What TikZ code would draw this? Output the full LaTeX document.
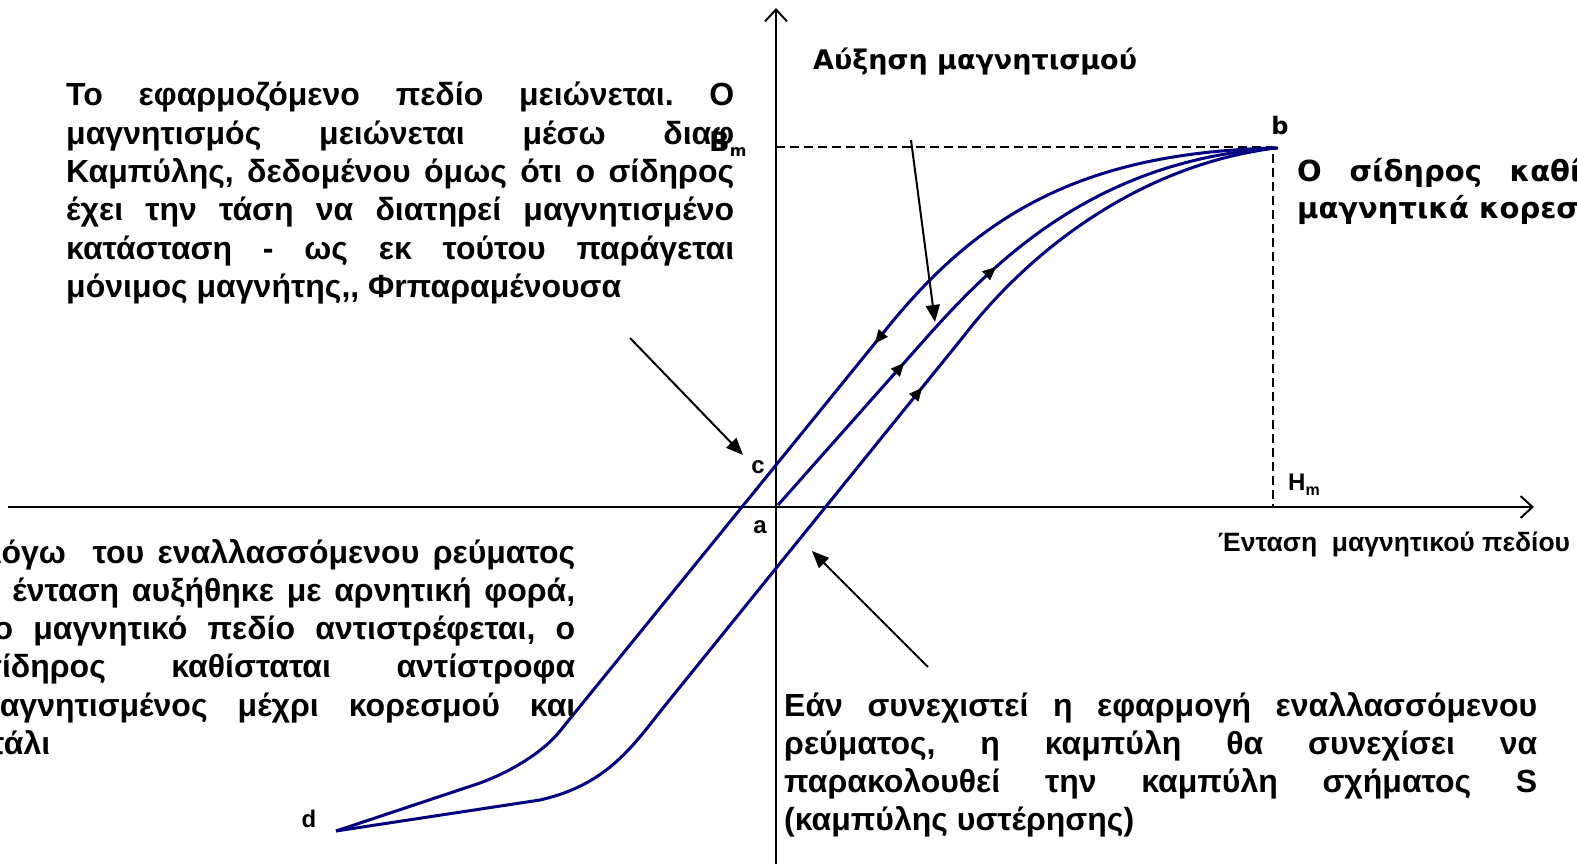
\documentclass[tikz,border=0pt]{standalone}
\usepackage{fontspec}
\setmainfont{Liberation Sans}
\newfontfamily\verd{DejaVu Sans}
\usetikzlibrary{arrows.meta}
\definecolor{curvecol}{RGB}{0,0,128}
\frenchspacing
\begin{document}
\begin{tikzpicture}[x=1pt,y=-1pt,
  axis/.style={line width=2pt,-{Straight Barb[length=12pt,width=22pt,line width=2pt]}},
  hyst/.style={line width=3pt,draw=curvecol,line join=round},
  tipmark/.style={line width=3pt,draw=curvecol,-{Triangle[length=13pt,width=12pt,line width=0.5pt,color=black]}},
  callout/.style={line width=2pt,-{Triangle[length=17pt,width=14pt]}},
  guide/.style={line width=1.5pt,dash pattern=on 9pt off 5pt},
  body/.style={font={\bfseries\fontsize{32}{38.3}\selectfont\frenchspacing\tolerance=10000\hbadness=10000},inner sep=0pt,align=justify},
  vbody/.style={font={\verd\bfseries\fontsize{29}{37}\selectfont\tolerance=10000\hbadness=10000},inner sep=0pt,align=justify},
  lbl/.style={font={\bfseries\fontsize{24}{28}\selectfont},inner sep=0pt}]
\useasboundingbox (0,0) rectangle (1577,864);
\clip (0,0) rectangle (1577,864);
\fill[white] (0,0) rectangle (1577,864);

% coordinates
\coordinate (ax0) at (776,864);
\coordinate (ax1) at (776,8);
\coordinate (ay0) at (8,507);
\coordinate (ay1) at (1534,507);
\coordinate (bmL) at (776,147);
\coordinate (b) at (1273,147);
\coordinate (hm) at (1273,507);

% axes
\draw[axis] (ax0) -- (ax1);
\draw[axis] (ay0) -- (ay1);
\draw[guide] (bmL) -- (b) -- (hm);

% hysteresis curves
\coordinate (tipb) at (1278,148);
\coordinate (ptd) at (336,831);
\coordinate (pta) at (778,505);
\draw[hyst] (tipb) .. controls (1080,152) and (975,216) .. (880,337)
  -- (560,731) .. controls (545,750) and (515,770) .. (480,783) -- (ptd);
\draw[hyst] (pta) -- (927,337) .. controls (1000,255) and (1100,160) .. (1276,148);
\draw[hyst] (1276,148) .. controls (1140,165) and (1030,250) .. (963,337)
  -- (663,708) .. controls (630,750) and (605,785) .. (540,800) -- (ptd);

% direction marks
\draw[tipmark] (883.2,333.1) -- (875,343.2);
\draw[tipmark] (895.4,372.7) -- (904,363);
\draw[tipmark] (986.1,275.8) -- (995.8,267.2);
\draw[tipmark] (913.8,397.8) -- (922,387.7);

% callout arrows
\coordinate (c1s) at (911,140);
\coordinate (c1e) at (935,322);
\coordinate (c2s) at (630,338);
\coordinate (c2e) at (743,455);
\coordinate (c3s) at (928,667);
\coordinate (c3e) at (812,551);
\draw[callout] (c1s) -- (c1e);
\draw[callout] (c2s) -- (c2e);
\draw[callout] (c3s) -- (c3e);

% text blocks
\node[body,text width=668pt,anchor=base west] (tl) at (66,106) {Το εφαρμοζόμενο πεδίο μειώνεται. Ο\linebreak μαγνητισμός μειώνεται μέσω διαφ\linebreak Καμπύλης, δεδομένου όμως ότι ο σίδηρος\linebreak έχει την τάση να διατηρεί μαγνητισμένο\linebreak κατάσταση - ως εκ τούτου παράγεται\linebreak μόνιμος μαγνήτης,{},{} Φrπαραμένουσα};
\node[body,text width=595pt,anchor=base west] (bl) at (-20,563) {Λόγω\ \ του εναλλασσόμενου ρεύματος\linebreak η ένταση αυξήθηκε με αρνητική φορά,\linebreak το μαγνητικό πεδίο αντιστρέφεται, ο\linebreak σίδηρος καθίσταται αντίστροφα\linebreak μαγνητισμένος μέχρι κορεσμού και\linebreak πάλι};
\node[body,text width=753pt,anchor=base west] (br) at (784,716) {Εάν συνεχιστεί η εφαρμογή εναλλασσόμενου\linebreak ρεύματος, η καμπύλη θα συνεχίσει να\linebreak παρακολουθεί την καμπύλη σχήματος S\linebreak (καμπύλης υστέρησης)};
\node[vbody,text width=395pt,anchor=base west] (tr) at (1297,182) {Ο σίδηρος καθίσταται\linebreak μαγνητικά κορεσμα};

\node[font={\verd\bfseries\fontsize{27}{30}\selectfont},inner sep=0pt,anchor=base west] (ylab) at (813,70) {Αύξηση μαγνητισμού};
\node[font={\bfseries\fontsize{26.5}{30}\selectfont},inner sep=0pt,anchor=base west] (xlab) at (1218,551) {Ένταση\ \ μαγνητικού πεδίου};

% point labels
\node[lbl,font={\verd\bfseries\fontsize{24}{28}\selectfont}] (lb) at (1280,126) {b};
\node[inner sep=0pt,font={\verd\bfseries\fontsize{27}{28}\selectfont},anchor=base west] (lbm) at (709,152) {B\raisebox{-5pt}{\fontsize{16}{16}\selectfont m}};
\node[lbl] (lc) at (758,467) {c};
\node[lbl] (la) at (760,527) {a};
\node[lbl] (ld) at (309,819) {d};
\node[lbl,anchor=base west] (lhm) at (1288,490) {H\raisebox{-5pt}{\fontsize{16}{16}\selectfont m}};
\end{tikzpicture}
\end{document}
